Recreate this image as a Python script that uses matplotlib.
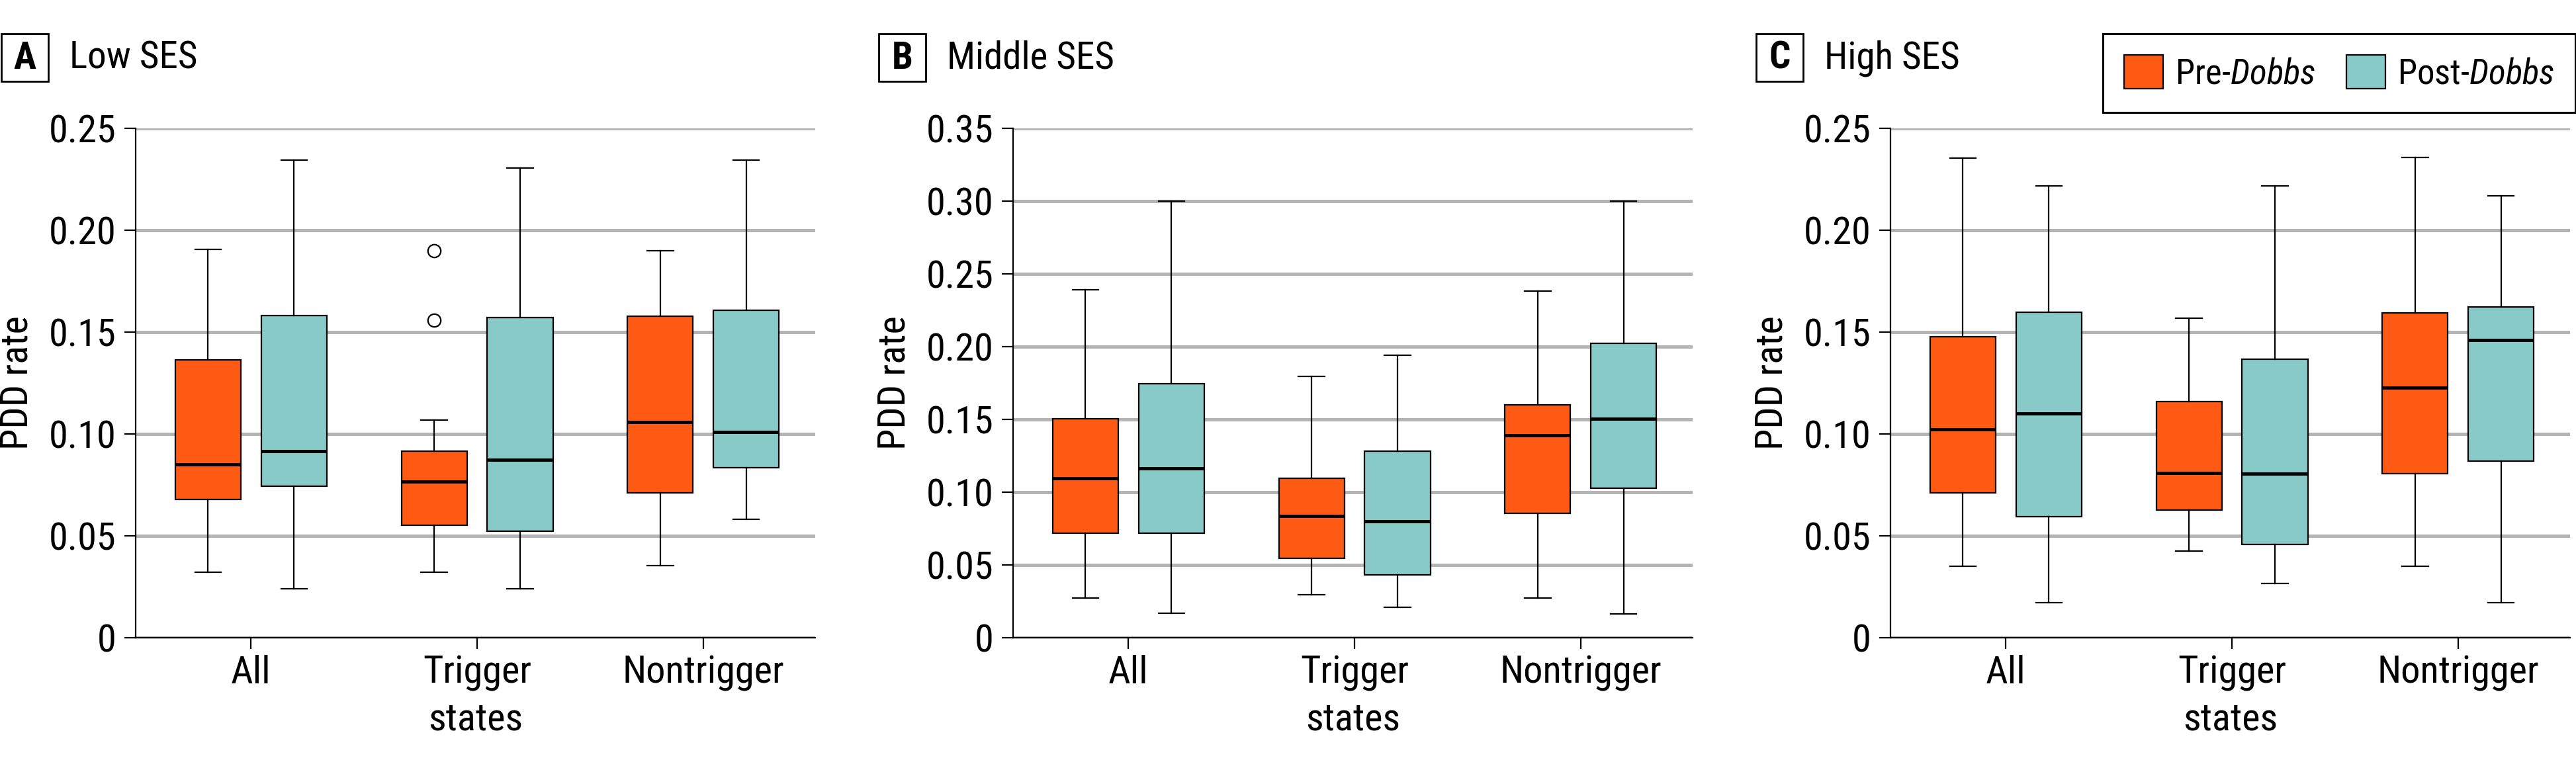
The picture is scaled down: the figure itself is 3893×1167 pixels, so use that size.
"""
PDD rate boxplots, pre vs post Dobbs, by SES level
"""

import matplotlib
matplotlib.use('Agg')
import matplotlib.pyplot as plt
from matplotlib import font_manager as fm
from matplotlib.patches import Patch, Rectangle
from matplotlib.ticker import FuncFormatter


def pick_font():
    # the original uses a condensed sans; take the narrowest one we have
    names = {f.name for f in fm.fontManager.ttflist}
    for p in ['Liberation Sans Narrow', 'Roboto Condensed', 'Open Sans Condensed',
              'Noto Sans Condensed', 'DejaVu Sans Condensed']:
        if p in names:
            return p, 'normal'
    cond = [f for f in fm.fontManager.ttflist
            if str(f.stretch) in ('condensed', 'semi-condensed', 'extra-condensed')
            and f.style == 'normal' and 'Sans' in f.name and 'Mono' not in f.name]
    if cond:
        return cond[0].name, str(cond[0].stretch)
    if 'Roboto' in names:
        return 'Roboto', 'normal'
    return 'Liberation Sans', 'normal'


FONT, STRETCH = pick_font()
plt.rcParams['font.family'] = [FONT, 'DejaVu Sans']
plt.rcParams['font.stretch'] = STRETCH
plt.rcParams['mathtext.fontset'] = 'custom'
plt.rcParams['mathtext.rm'] = f'{FONT}:stretch={STRETCH}'
plt.rcParams['mathtext.it'] = f'{FONT}:italic:stretch={STRETCH}'

# groups on the x axis
groups = ['All', 'Trigger', 'Nontrigger']
panel_titles = ['Low SES', 'Middle SES', 'High SES']
panel_letters = ['A', 'B', 'C']

# each box: [whisker low, Q1, median, Q3, whisker high]
low_pre = [[0.032, 0.068, 0.085, 0.1365, 0.1906],
           [0.032, 0.0553, 0.0766, 0.0915, 0.1068],
           [0.0355, 0.071, 0.106, 0.1577, 0.190]]
low_post = [[0.024, 0.0744, 0.0915, 0.158, 0.2343],
            [0.024, 0.0522, 0.0872, 0.157, 0.2304],
            [0.058, 0.0833, 0.101, 0.1606, 0.2343]]
low_pre_fliers = [[], [0.190, 0.156], []]

mid_pre = [[0.0274, 0.072, 0.1095, 0.1503, 0.2389],
           [0.0294, 0.0547, 0.0838, 0.1095, 0.1797],
           [0.0274, 0.0855, 0.1389, 0.1601, 0.2382]]
mid_post = [[0.0169, 0.0716, 0.1162, 0.1747, 0.300],
            [0.0209, 0.0432, 0.080, 0.128, 0.1943],
            [0.0162, 0.1027, 0.1503, 0.2024, 0.300]]

high_pre = [[0.035, 0.071, 0.1022, 0.1476, 0.2353],
            [0.0425, 0.0626, 0.0807, 0.1159, 0.1568],
            [0.035, 0.0804, 0.1227, 0.1594, 0.2357]]
high_post = [[0.0171, 0.0594, 0.1101, 0.1597, 0.2217],
             [0.0266, 0.0457, 0.0804, 0.1367, 0.2217],
             [0.0171, 0.0867, 0.1461, 0.1623, 0.2169]]

y_max = [0.25, 0.35, 0.25]

PRE_COLOR = '#FE5A14'
POST_COLOR = '#88CAC7'
GRID_COLOR = '#B4B4B4'
FS = 42
TITLE_FS = 41
LEG_FS = 38


def make_stats(boxes, fliers=None):
    stats = []
    for i, (lo, q1, med, q3, hi) in enumerate(boxes):
        stats.append({'whislo': lo, 'q1': q1, 'med': med, 'q3': q3,
                      'whishi': hi, 'fliers': fliers[i] if fliers else []})
    return stats


def draw_boxes(ax, stats, positions, color):
    lw = 1.6
    ax.bxp(stats, positions=positions, widths=0.29, capwidths=0.115,
           patch_artist=True, manage_ticks=False,
           boxprops=dict(facecolor=color, edgecolor='black', linewidth=lw),
           medianprops=dict(color='black', linewidth=3.5),
           whiskerprops=dict(color='black', linewidth=lw),
           capprops=dict(color='black', linewidth=lw),
           flierprops=dict(marker='o', markerfacecolor='white',
                           markeredgecolor='black', markersize=14,
                           markeredgewidth=1.6))


W, H = 3893, 1167
fig = plt.figure(figsize=(W / 100, H / 100), dpi=100)

lefts_px = [205, 1531, 2857]
ax_w_px = 1027
bottom_px, top_px = 964, 194

data = [(low_pre, low_post, low_pre_fliers),
        (mid_pre, mid_post, None),
        (high_pre, high_post, None)]

x = list(range(len(groups)))
axes = []
for k, (pre, post, pre_fl) in enumerate(data):
    ax = fig.add_axes([lefts_px[k] / W, 1 - bottom_px / H,
                       ax_w_px / W, (bottom_px - top_px) / H])
    axes.append(ax)

    draw_boxes(ax, make_stats(pre, pre_fl), [p - 0.19 for p in x], PRE_COLOR)
    draw_boxes(ax, make_stats(post), [p + 0.19 for p in x], POST_COLOR)

    ax.set_xlim(-0.51, 2.495)
    ax.set_ylim(0, y_max[k])
    ticks = [i * 0.05 for i in range(int(round(y_max[k] / 0.05)) + 1)]
    ax.set_yticks(ticks)
    ax.yaxis.set_major_formatter(FuncFormatter(lambda v, _: '0' if abs(v) < 1e-9 else f'{v:.2f}'))
    ax.set_xticks(x)
    ax.set_xticklabels(groups)

    ax.grid(axis='y', color=GRID_COLOR, linewidth=3.6)
    ax.set_axisbelow(True)
    for s in ['top', 'right']:
        ax.spines[s].set_visible(False)
    for s in ['left', 'bottom']:
        ax.spines[s].set_linewidth(1.6)
    ax.tick_params(axis='both', labelsize=FS, length=12.5, width=1.6)
    ax.tick_params(axis='y', pad=9)
    ax.tick_params(axis='x', pad=6)

    ax.set_ylabel('PDD rate', fontsize=FS)
    ax.yaxis.set_label_coords(-0.148, 0.5)
    ax.set_xlabel('states', fontsize=FS)
    ax.xaxis.set_label_coords(0.5, -0.125)

    # panel letter box + title
    bx = lefts_px[k] - 203
    fig.add_artist(Rectangle((bx / W, 1 - 123 / H), 71 / W, 72 / H,
                             transform=fig.transFigure, fill=False,
                             edgecolor='black', linewidth=2))
    fig.text((bx + 35.5) / W, 1 - 104 / H, panel_letters[k], fontsize=TITLE_FS,
             fontweight='bold', ha='center', va='baseline')
    fig.text((lefts_px[k] - 100) / W, 1 - 104 / H, panel_titles[k],
             fontsize=TITLE_FS, ha='left', va='baseline')

em = LEG_FS * 100 / 72  # legend font size in pixels
handles = [Patch(facecolor=PRE_COLOR, edgecolor='black', linewidth=1.6),
           Patch(facecolor=POST_COLOR, edgecolor='black', linewidth=1.6)]
labels = ['Pre-$\\mathit{Dobbs}$', 'Post-$\\mathit{Dobbs}$']
leg = axes[2].legend(handles, labels, loc='upper right',
                     bbox_to_anchor=(3892 / W, 1 - 51 / H),
                     bbox_transform=fig.transFigure, ncol=2, fontsize=LEG_FS,
                     frameon=True, fancybox=False, framealpha=1,
                     edgecolor='black', borderaxespad=0, borderpad=32 / em,
                     handlelength=59 / em, handleheight=59 / em,
                     handletextpad=18 / em, columnspacing=47 / em)
leg.get_frame().set_linewidth(2.2)

fig.savefig('out.png', dpi=100)
